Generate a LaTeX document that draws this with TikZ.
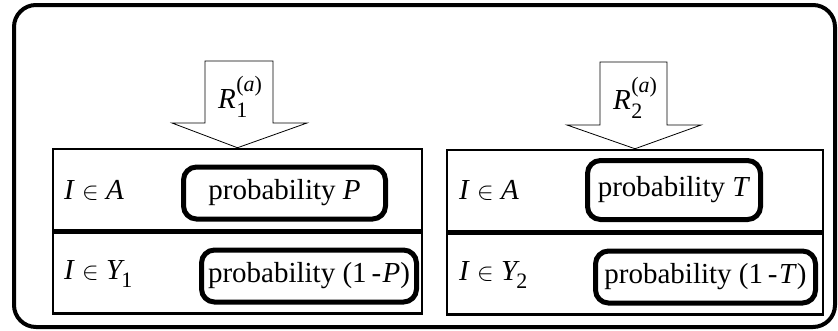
\documentclass[tikz,border=0pt]{standalone}
\usepackage{amsmath}
\usepackage{fontspec}
\setmainfont{Liberation Serif}
\usetikzlibrary{positioning}
\tikzset{
  rowbox/.style={draw,line width=2.5pt,minimum height=81pt,inner sep=0pt},
  probbox/.style={draw,line width=5pt,rounded corners=13pt,inner sep=0pt,minimum height=52pt},
  setlab/.style={anchor=west,inner sep=0pt},
  bigarrow/.style={draw,line width=0.8pt,fill=white}
}
\newcommand{\smallidx}[1]{\fontsize{22}{22}\selectfont #1}
\newcommand{\lowidx}[1]{\kern-0.12em\raisebox{-0.3em}{\smallidx{#1}}}
\newcommand{\Rlab}[1]{\textit{R}\kern0.02em\rlap{\raisebox{-0.3em}{\smallidx{#1}}}\raisebox{0.6em}{\smallidx{(\textit{a})}}}

\begin{document}
\begin{tikzpicture}[x=1pt,y=-1pt,font=\fontsize{29}{32}\selectfont]
    \useasboundingbox (0,0) rectangle (838,330);
    % outer frame
    \draw[line width=4pt,rounded corners=22pt] (14,5) rectangle (835,327);
    % left table
    \begin{scope}
      \node[rowbox,minimum width=369pt] (ltop) at (237.5,189.5) {};
      \node[rowbox,minimum width=369pt,below=0pt of ltop] (lbot) {};
      \node[setlab] (lsetA) at (64,190) {\textit{I} $\in$ \textit{A}};
      \node[setlab] (lsetY) at (64,274) {\textit{I} $\in$ \textit{Y}\lowidx{1}};
      \node[probbox,minimum width=202pt] (lprobA) at (284.5,193) {probability \textit{P}};
      \node[probbox,minimum width=215pt] (lprobY) at (309,276) {probability (1\,-\kern0.05em\textit{P})};
      \draw[bigarrow] (205,61) -- (273,61) -- (273,123) -- (307,123) -- (ltop.north) -- (172,123) -- (205,123) -- cycle;
      \node (lrule) at (240,97) {\Rlab{1}};
    \end{scope}
    % right table
    \begin{scope}
      \node[rowbox,minimum width=376pt] (rtop) at (635,190.5) {};
      \node[rowbox,minimum width=376pt,below=0pt of rtop] (rbot) {};
      \node[setlab] (rsetA) at (459,190) {\textit{I} $\in$ \textit{A}};
      \node[setlab] (rsetY) at (459,275) {\textit{I} $\in$ \textit{Y}\lowidx{2}};
      \node[probbox,minimum width=173pt,minimum height=59pt] (rprobA) at (674,190) {probability \textit{T}};
      \node[probbox,minimum width=220pt] (rprobY) at (705.5,277) {probability (1\,-\kern0.05em\textit{T})};
      \draw[bigarrow] (600,62) -- (667,62) -- (667,125) -- (701,125) -- (rtop.north) -- (567,125) -- (600,125) -- cycle;
      \node (rrule) at (635,98) {\Rlab{2}};
    \end{scope}
  \end{tikzpicture}
\end{document}
